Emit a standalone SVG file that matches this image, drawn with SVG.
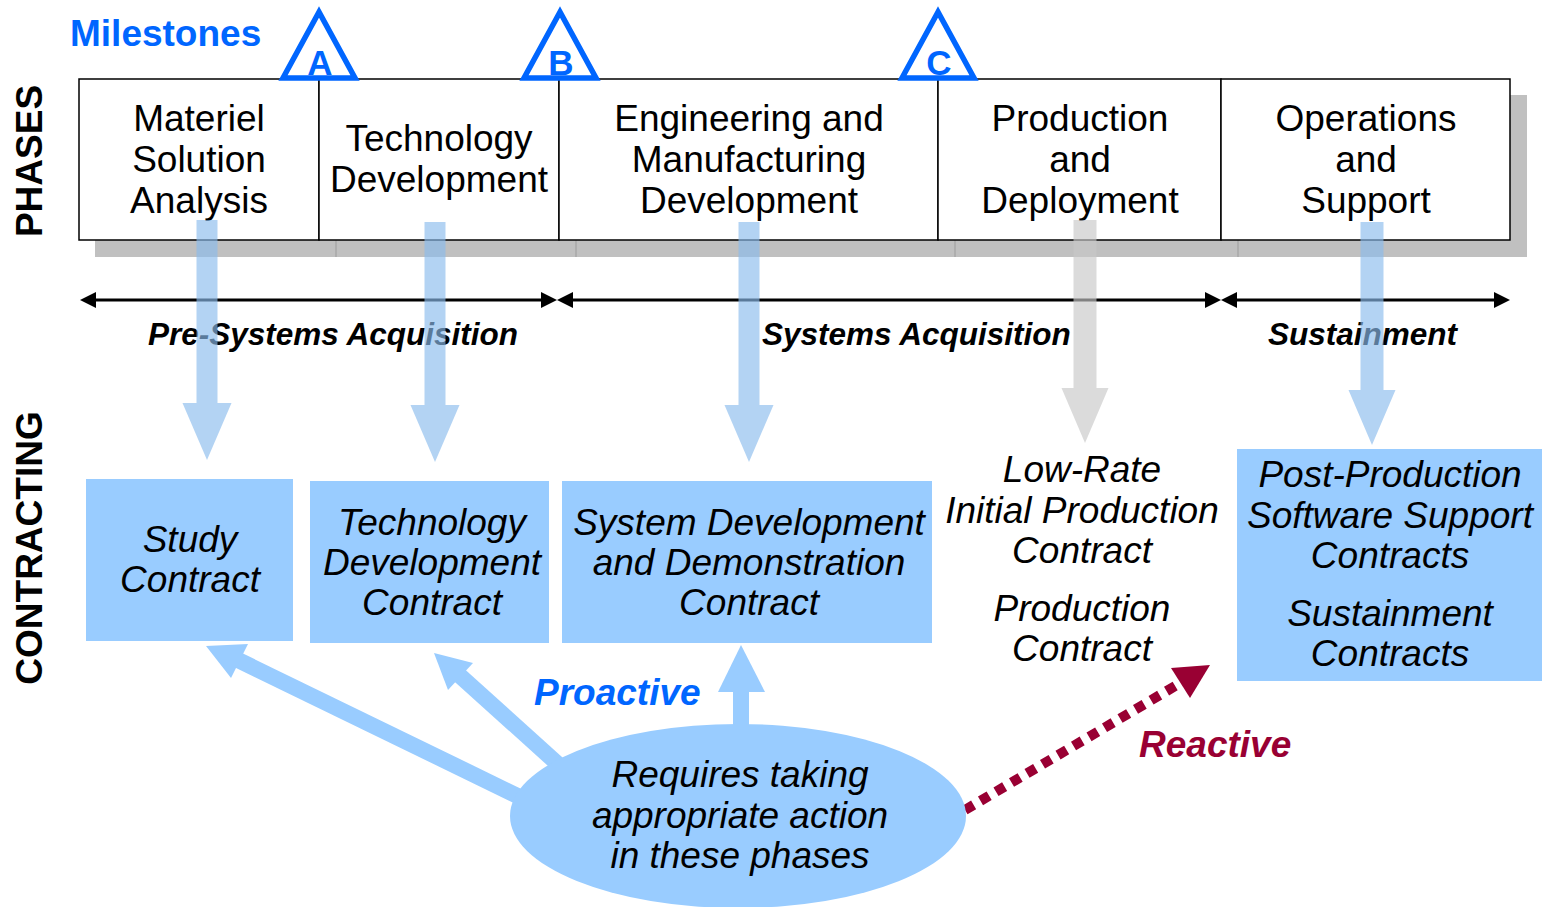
<svg xmlns="http://www.w3.org/2000/svg" width="1545" height="907" viewBox="0 0 1545 907">
<style>
.ph{font-family:"Liberation Sans",Arial,sans-serif;font-size:37px;fill:#000;text-anchor:middle}
.ct{font-family:"Liberation Sans",Arial,sans-serif;font-size:37px;font-style:italic;fill:#000;text-anchor:middle}
.lbl{font-family:"Liberation Sans",Arial,sans-serif;font-size:31.5px;font-style:italic;font-weight:bold;fill:#000}
.side{font-family:"Liberation Sans",Arial,sans-serif;font-size:37px;font-weight:bold;fill:#000;text-anchor:middle}
.ms{font-family:"Liberation Sans",Arial,sans-serif;font-size:35px;font-weight:bold;fill:#0066ff;text-anchor:middle}
.tri{fill:#fff;stroke:#0066ff;stroke-width:5.5;stroke-linejoin:miter}
.box{fill:#fff;stroke:#000;stroke-width:1.5}
.cbox{fill:#99ccff}
.darr{fill:#8abced;fill-opacity:0.65}
.garr{fill:#c8c8c8;fill-opacity:0.65}
.tl{stroke:#000;stroke-width:3;fill:none}
.tlh{fill:#000}
.pro{stroke:#99ccff;stroke-width:16;fill:none}
.proh{fill:#99ccff}
.big{font-family:"Liberation Sans",Arial,sans-serif;font-size:37px;font-weight:bold;font-style:italic}
</style>
<defs>
<path id="arrLong" d="M-10.5,0 H10.5 V183 H24.5 L0,240 L-24.5,183 H-10.5 Z"/>
<path id="arrShort" d="M-11.5,0 H11.5 V168 H23.5 L0,223 L-23.5,168 H-11.5 Z"/>
</defs>

<!-- side labels -->
<text class="side" transform="translate(42,161) rotate(-90)">PHASES</text>
<text class="side" transform="translate(42,548) rotate(-90)">CONTRACTING</text>
<text x="70" y="46" font-family="Liberation Sans, Arial, sans-serif" font-size="37" font-weight="bold" fill="#0066ff">Milestones</text>

<!-- phase shadow -->
<g id="phase-shadow">
<rect x="95" y="95" width="1432" height="162" fill="#c0c0c0"/>
<line x1="336" y1="240" x2="336" y2="257" stroke="#a8a8a8" stroke-width="1.5"/>
<line x1="576" y1="240" x2="576" y2="257" stroke="#a8a8a8" stroke-width="1.5"/>
<line x1="955" y1="240" x2="955" y2="257" stroke="#a8a8a8" stroke-width="1.5"/>
<line x1="1238" y1="240" x2="1238" y2="257" stroke="#a8a8a8" stroke-width="1.5"/>
</g>

<g id="phase-msa">
<rect class="box" x="79" y="79" width="240" height="161"/>
<text class="ph" x="199" y="131">Materiel</text>
<text class="ph" x="199" y="172">Solution</text>
<text class="ph" x="199" y="213">Analysis</text>
</g>
<g id="phase-td">
<rect class="box" x="319" y="79" width="240" height="161"/>
<text class="ph" x="439" y="151">Technology</text>
<text class="ph" x="439" y="192">Development</text>
</g>
<g id="phase-emd">
<rect class="box" x="559" y="79" width="379" height="161"/>
<text class="ph" x="749" y="131">Engineering and</text>
<text class="ph" x="749" y="172">Manufacturing</text>
<text class="ph" x="749" y="213">Development</text>
</g>
<g id="phase-pd">
<rect class="box" x="938" y="79" width="283" height="161"/>
<text class="ph" x="1080" y="131">Production</text>
<text class="ph" x="1080" y="172">and</text>
<text class="ph" x="1080" y="213">Deployment</text>
</g>
<g id="phase-os">
<rect class="box" x="1221" y="79" width="289" height="161"/>
<text class="ph" x="1366" y="131">Operations</text>
<text class="ph" x="1366" y="172">and</text>
<text class="ph" x="1366" y="213">Support</text>
</g>

<!-- milestones -->
<g id="milestone-a">
<polygon class="tri" points="319,12 283,78 355,78"/>
<text class="ms" x="320" y="75">A</text>
</g>
<g id="milestone-b">
<polygon class="tri" points="560,12 524,78 596,78"/>
<text class="ms" x="561" y="75">B</text>
</g>
<g id="milestone-c">
<polygon class="tri" points="938,12 902,78 974,78"/>
<text class="ms" x="939" y="75">C</text>
</g>

<!-- timeline -->
<g id="timeline">
<line class="tl" x1="92" y1="300" x2="544" y2="300"/>
<polygon class="tlh" points="80,300 96,292 96,308"/>
<polygon class="tlh" points="557,300 541,292 541,308"/>
<line class="tl" x1="570" y1="300" x2="1209" y2="300"/>
<polygon class="tlh" points="557,300 573,292 573,308"/>
<polygon class="tlh" points="1221,300 1205,292 1205,308"/>
<line class="tl" x1="1234" y1="300" x2="1498" y2="300"/>
<polygon class="tlh" points="1221,300 1237,292 1237,308"/>
<polygon class="tlh" points="1510,300 1494,292 1494,308"/>
<text class="lbl" x="148" y="345">Pre-Systems Acquisition</text>
<text class="lbl" x="762" y="345">Systems Acquisition</text>
<text class="lbl" x="1268" y="345">Sustainment</text>
</g>

<!-- contracting -->
<g id="c-study">
<rect class="cbox" x="86" y="479" width="207" height="162"/>
<text class="ct" x="190" y="552">Study</text>
<text class="ct" x="190" y="592">Contract</text>
</g>
<g id="c-td">
<rect class="cbox" x="310" y="481" width="239" height="162"/>
<text class="ct" x="432" y="535">Technology</text>
<text class="ct" x="432" y="575">Development</text>
<text class="ct" x="432" y="615">Contract</text>
</g>
<g id="c-sdd">
<rect class="cbox" x="562" y="481" width="370" height="162"/>
<text class="ct" x="749" y="535">System Development</text>
<text class="ct" x="749" y="575">and Demonstration</text>
<text class="ct" x="749" y="615">Contract</text>
</g>
<g id="c-lrip">
<text class="ct" x="1082" y="482">Low-Rate</text>
<text class="ct" x="1082" y="523">Initial Production</text>
<text class="ct" x="1082" y="563">Contract</text>
<text class="ct" x="1082" y="621">Production</text>
<text class="ct" x="1082" y="661">Contract</text>
</g>
<g id="c-pps">
<rect class="cbox" x="1237" y="449" width="305" height="232"/>
<text class="ct" x="1390" y="487">Post-Production</text>
<text class="ct" x="1390" y="528">Software Support</text>
<text class="ct" x="1390" y="568">Contracts</text>
<text class="ct" x="1390" y="626">Sustainment</text>
<text class="ct" x="1390" y="666">Contracts</text>
</g>

<!-- connectors -->
<g id="connectors">
<use href="#arrLong" class="darr" transform="translate(207,220)"/>
<use href="#arrLong" class="darr" transform="translate(435,222)"/>
<use href="#arrLong" class="darr" transform="translate(749,222)"/>
<use href="#arrShort" class="garr" transform="translate(1085,220)"/>
<use href="#arrShort" class="darr" transform="translate(1372,222)"/>

<line class="pro" x1="238" y1="660" x2="530" y2="802"/>
<polygon class="proh" points="206,646 248,644 231,678"/>
<line class="pro" x1="458" y1="674" x2="570" y2="775"/>
<polygon class="proh" points="434,653 473,663 448,690"/>
<rect class="proh" x="733" y="688" width="16" height="45"/>
<polygon class="proh" points="741,645 718,692 765,692"/>

<line x1="965" y1="810" x2="1182" y2="682" stroke="#990033" stroke-width="10" stroke-dasharray="10,8"/>
<polygon fill="#990033" points="1210,665 1171,668 1190,698"/>
</g>

<g id="action">
<ellipse cx="738" cy="816" rx="228" ry="92" fill="#99ccff"/>
<text class="ct" x="740" y="787">Requires taking</text>
<text class="ct" x="740" y="828">appropriate action</text>
<text class="ct" x="740" y="868">in these phases</text>
</g>

<text class="big" x="534" y="705" fill="#0066ff">Proactive</text>
<text class="big" x="1139" y="757" fill="#990033">Reactive</text>
</svg>
